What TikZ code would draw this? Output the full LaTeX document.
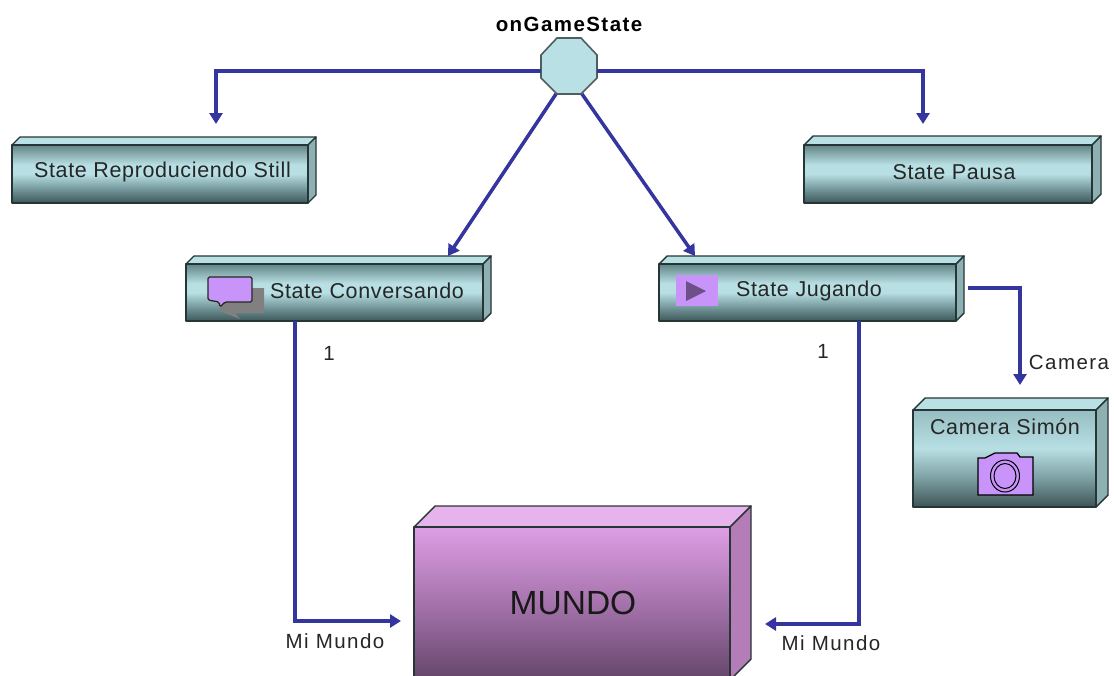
\documentclass[tikz,border=0pt]{standalone}
\usepackage{fontspec}
\setmainfont{Liberation Sans}
\usetikzlibrary{arrows.meta,calc}
\definecolor{link}{HTML}{3535A0}
\definecolor{edge}{HTML}{263636}
\definecolor{lilac}{HTML}{C894FA}
\definecolor{tealtop}{HTML}{B9E0E4}
\definecolor{tealside}{HTML}{8FB0B2}
\definecolor{pinktop}{HTML}{E6B3EC}
\definecolor{pinkside}{HTML}{B57DB8}
\definecolor{tA}{HTML}{3E585A}
\definecolor{tB}{HTML}{698C8F}
\definecolor{tC}{HTML}{B8DFE3}
\definecolor{tD}{HTML}{628486}
\definecolor{uA}{HTML}{3E5456}
\definecolor{uB}{HTML}{7DA0A3}
\definecolor{uD}{HTML}{96BEC2}
\definecolor{pA}{HTML}{644669}
\definecolor{pB}{HTML}{A573AC}
\definecolor{pC}{HTML}{DE9EE4}
\pgfdeclareverticalshading{tealbar}{100bp}{
 color(0bp)=(tA); color(25bp)=(tA); color(35bp)=(tB); color(50bp)=(tC);
 color(58bp)=(tC); color(75bp)=(tD); color(100bp)=(tD)}
\pgfdeclareverticalshading{tealtall}{100bp}{
 color(0bp)=(uA); color(25bp)=(uA); color(40bp)=(uB); color(55bp)=(tC);
 color(75bp)=(uD); color(100bp)=(uD)}
\pgfdeclareverticalshading{pinkbar}{100bp}{
 color(0bp)=(pA); color(25bp)=(pA); color(50bp)=(pB); color(75bp)=(pC); color(100bp)=(pC)}
\tikzset{
 wire/.style={draw=link,line width=3.5pt,line join=miter},
 tipped/.style={wire,-{Triangle[length=11pt,width=13pt]}},
 lbl/.style={inner sep=0pt,font=\fontsize{21.5}{24}\selectfont\addfontfeature{LetterSpace=3},text=black!85},
 small/.style={inner sep=0pt,font=\fontsize{20.5}{24}\selectfont\addfontfeature{LetterSpace=7},text=black!85},
 boxface/.style={draw=edge,line width=1.6pt,inner sep=0pt,outer sep=0pt,line join=round},
}
% name, x0,y0,x1,y1, d, shading, top colour, side colour
\newcommand{\tdbox}[9]{%
 \filldraw[draw=edge,line width=1.4pt,line join=round,fill=#8]
   (#2,#3) -- ({#2+#6},{#3-#6}) -- ({#4+#6},{#3-#6}) -- (#4,#3) -- cycle;
 \filldraw[draw=edge,line width=1.4pt,line join=round,fill=#9]
   (#4,#3) -- ({#4+#6},{#3-#6}) -- ({#4+#6},{#5-#6}) -- (#4,#5) -- cycle;
 \node[boxface,shading=#7,minimum width={(#4-#2)*1pt},minimum height={(#5-#3)*1pt}]
   (#1) at ({(#2+#4)/2},{(#3+#5)/2}) {};
}
\begin{document}
\begin{tikzpicture}[x=1pt,y=-1pt]
\useasboundingbox (0,0) rectangle (1114,675);
\fill[white] (0,0) rectangle (1114,675);
\clip (0,0) rectangle (1114,675);

\tdbox{still}{12}{145}{308}{203}{8}{tealbar}{tealtop}{tealside}
\tdbox{pausa}{804}{145}{1092}{203}{9}{tealbar}{tealtop}{tealside}
\tdbox{conv}{186}{264}{483}{321}{8}{tealbar}{tealtop}{tealside}
\tdbox{jug}{659}{264}{956}{321}{8}{tealbar}{tealtop}{tealside}
\tdbox{cam}{913}{410}{1096}{507}{12}{tealtall}{tealtop}{tealside}
\tdbox{mundo}{414}{527}{730}{680}{21}{pinkbar}{pinktop}{pinkside}

\node[lbl] (tstill) at (162.5,172) {State Reproduciendo Still};
\node[lbl] (tpausa) at (954,172) {State Pausa};
\node[lbl] (tconv) at (367,291) {State Conversando};
\node[lbl] (tjug) at (809,291) {State Jugando};
\node[lbl] (tcam) at (1005,427) {Camera Simón};
\node[inner sep=0pt,font=\fontsize{33.5}{36}\selectfont,text=black!90] (tmundo) at (573,603) {MUNDO};
\node[inner sep=0pt,font=\bfseries\fontsize{20.5}{24}\selectfont\addfontfeature{LetterSpace=7}] (tstate) at (569,24) {onGameState};

% octagon
\filldraw[draw=edge!80,line width=1.6pt,fill=tealtop] (557,38) -- (581,38) -- (597,55) -- (597,78) -- (581,94) -- (557,94) -- (541,78) -- (541,55) -- cycle;
\coordinate (octl) at (541,71);
\coordinate (octr) at (597,71);
\coordinate (octbl) at (556,94);
\coordinate (octbr) at (582,94);
\node[inner sep=0pt,minimum size=0pt] (oct) at (569,66) {};

% connectors
\draw[tipped] (octl) -| ([xshift=56pt,yshift=21pt]still.north);
\draw[tipped] (octr) -| ([xshift=-25pt,yshift=21pt]pausa.north);
\draw[tipped] (octbl) -- ([xshift=113.5pt,yshift=8pt]conv.north);
\draw[tipped] (octbr) -- ([xshift=-112.5pt,yshift=8pt]jug.north);
\draw[tipped] ([xshift=-39.5pt]conv.south) |- ([xshift=-13pt]mundo.west |- 401,621);
\draw[tipped] ([xshift=51.5pt]jug.south) |- ([xshift=35pt]mundo.east |- 751,624);
\draw[tipped] ([xshift=12pt,yshift=4.5pt]jug.east) -| ([xshift=15.5pt,yshift=25pt]cam.north);

% connector labels
\node[small] (n1) at (329,353) {1};
\node[small] (n2) at (823,351) {1};
\node[small] (lcam) at (1069,362) {Camera};
\node[small] (lm1) at (335,641) {Mi Mundo};
\node[small] (lm2) at (831,643) {Mi Mundo};

% speech bubble icon
\fill[black!50] (220,289) -- (264,288) -- (264,313) -- (235,313) -- (240,319) -- (225,313) -- (220,311) -- cycle;
\filldraw[draw=black!85,line width=1.3pt,fill=lilac,rounded corners=1.5pt]
  (208,277) -- (252,277) -- (252,302) -- (225,302) -- (220,307) -- (219,302) -- (208,300) -- cycle;
% play icon
\fill[lilac] (676,275) rectangle (718,306);
\fill[black!10!lilac!60!black] (686,281) -- (706,291) -- (686,301) -- cycle;
% camera icon
\filldraw[draw=black,line width=1.3pt,fill=lilac] (978,458) -- (985,458) -- (995,453) -- (1017,453) -- (1020,457) -- (1033,457) -- (1033,495) -- (978,495) -- cycle;
\draw[black,line width=1pt] (1005,476) circle[x radius=14.5,y radius=16];
\draw[black,line width=1pt] (1005,476) circle[x radius=11,y radius=12.5];
\end{tikzpicture}
\end{document}
